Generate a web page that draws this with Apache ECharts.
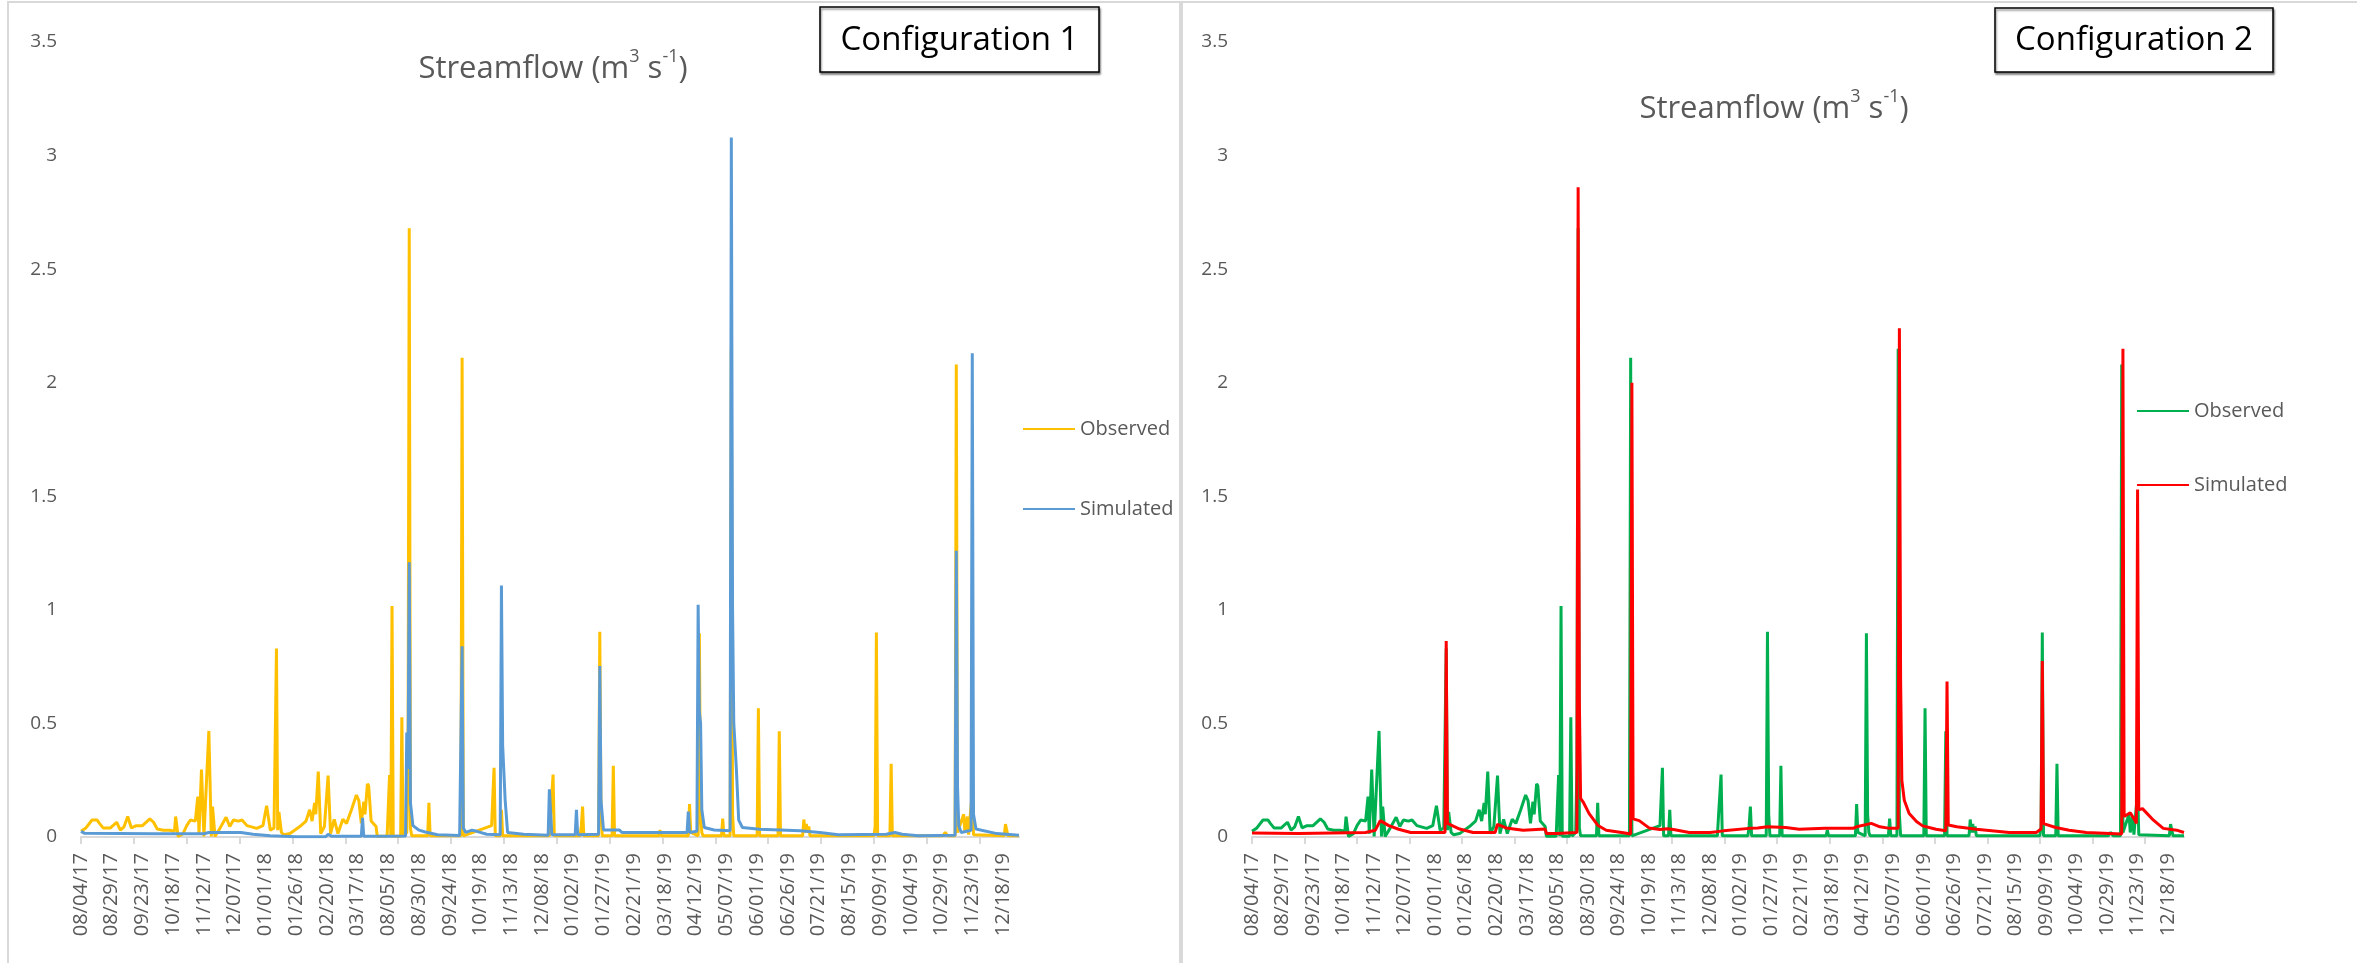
<!DOCTYPE html>
<html>
<head>
<meta charset="utf-8">
<title>Streamflow</title>
<script src="https://cdn.jsdelivr.net/npm/echarts@6/dist/echarts.min.js"></script>
<style>
  html, body { margin: 0; padding: 0; background: #fff; }
  #chart { width: 2357px; height: 963px; }
</style>
</head>
<body>
<div id="chart"></div>
<script>
// daily record; the Apr-Jul 2018 stretch is missing from the series
const periods = [['2017-08-04', '2018-04-10'], ['2018-08-05', '2019-12-31']];

const observed = [
  ['08/04/17', 0.025], ['08/08/17', 0.04], ['08/13/17', 0.075], ['08/17/17', 0.075], ['08/19/17', 0.06], ['08/22/17', 0.04], ['08/28/17', 0.04],
  ['09/02/17', 0.065], ['09/05/17', 0.03], ['09/08/17', 0.045], ['09/11/17', 0.09], ['09/14/17', 0.04], ['09/18/17', 0.05], ['09/23/17', 0.05], ['09/29/17', 0.08],
  ['10/02/17', 0.065], ['10/05/17', 0.035], ['10/10/17', 0.03], ['10/15/17', 0.03], ['10/19/17', 0.025], ['10/20/17', 0.09], ['10/22/17', 0.002], ['10/26/17', 0.015], ['10/29/17', 0.05],
  ['11/01/17', 0.075], ['11/05/17', 0.07], ['11/07/17', 0.178], ['11/08/17', 0.015], ['11/10/17', 0.297], ['11/12/17', 0.002], ['11/16/17', 0.467], ['11/18/17', 0.002], ['11/19/17', 0.134], ['11/21/17', 0.002], ['11/25/17', 0.038], ['11/30/17', 0.087],
  ['12/03/17', 0.046], ['12/06/17', 0.075], ['12/10/17', 0.07], ['12/13/17', 0.075], ['12/17/17', 0.05], ['12/25/17', 0.038], ['12/30/17', 0.05],
  ['01/02/18', 0.138], ['01/05/18', 0.03], ['01/08/18', 0.04], ['01/10/18', 0.83], ['01/11/18', 0.03], ['01/12/18', 0.11], ['01/14/18', 0.02], ['01/16/18', 0.01], ['01/21/18', 0.015], ['01/29/18', 0.046],
  ['02/03/18', 0.07], ['02/06/18', 0.12], ['02/08/18', 0.07], ['02/10/18', 0.15], ['02/11/18', 0.1], ['02/13/18', 0.288], ['02/15/18', 0.015], ['02/18/18', 0.046], ['02/21/18', 0.27], ['02/23/18', 0.015], ['02/26/18', 0.078],
  ['03/01/18', 0.015], ['03/05/18', 0.078], ['03/08/18', 0.06], ['03/12/18', 0.12], ['03/16/18', 0.185], ['03/18/18', 0.16], ['03/20/18', 0.06], ['03/22/18', 0.155], ['03/23/18', 0.1], ['03/25/18', 0.234], ['03/26/18', 0.225], ['03/28/18', 0.07],
  ['04/01/18', 0.046], ['04/02/18', 0.003], ['04/10/18', 0.003],
  ['08/05/18', 0.003], ['08/06/18', 0.273], ['08/07/18', 0.003], ['08/08/18', 1.017], ['08/09/18', 0.003], ['08/15/18', 0.003], ['08/16/18', 0.527], ['08/17/18', 0.003], ['08/20/18', 0.02], ['08/21/18', 0.3], ['08/22/18', 2.68], ['08/23/18', 0.04], ['08/24/18', 0.005],
  ['09/06/18', 0.005], ['09/07/18', 0.15], ['09/08/18', 0.005],
  ['10/03/18', 0.005], ['10/04/18', 2.11], ['10/05/18', 0.005], ['10/28/18', 0.05], ['10/30/18', 0.305], ['10/31/18', 0.005],
  ['11/04/18', 0.005], ['11/05/18', 0.12], ['11/06/18', 0.005],
  ['12/14/18', 0.005], ['12/15/18', 0.1], ['12/17/18', 0.275], ['12/18/18', 0.005],
  ['01/08/19', 0.005], ['01/09/19', 0.05], ['01/10/19', 0.134], ['01/11/19', 0.005], ['01/23/19', 0.005], ['01/24/19', 0.904], ['01/25/19', 0.1], ['01/26/19', 0.005],
  ['02/03/19', 0.005], ['02/04/19', 0.314], ['02/05/19', 0.005],
  ['03/13/19', 0.005], ['03/14/19', 0.03], ['03/15/19', 0.005],
  ['04/06/19', 0.005], ['04/07/19', 0.145], ['04/08/19', 0.02], ['04/14/19', 0.005], ['04/15/19', 0.897], ['04/16/19', 0.1], ['04/17/19', 0.02], ['04/18/19', 0.005],
  ['05/03/19', 0.005], ['05/04/19', 0.081], ['05/05/19', 0.005], ['05/10/19', 0.005], ['05/11/19', 2.15], ['05/12/19', 0.1], ['05/13/19', 0.005],
  ['06/01/19', 0.005], ['06/02/19', 0.567], ['06/03/19', 0.005], ['06/18/19', 0.005], ['06/19/19', 0.465], ['06/20/19', 0.005],
  ['07/08/19', 0.005], ['07/09/19', 0.077], ['07/10/19', 0.02], ['07/11/19', 0.057], ['07/12/19', 0.02], ['07/13/19', 0.046], ['07/14/19', 0.005],
  ['09/04/19', 0.005], ['09/05/19', 0.046], ['09/06/19', 0.9], ['09/07/19', 0.005], ['09/17/19', 0.005], ['09/18/19', 0.322], ['09/19/19', 0.005],
  ['10/30/19', 0.005], ['11/01/19', 0.02], ['11/03/19', 0.005], ['11/09/19', 0.005], ['11/10/19', 2.08], ['11/11/19', 0.02], ['11/16/19', 0.1], ['11/17/19', 0.02], ['11/19/19', 0.09], ['11/20/19', 0.01], ['11/23/19', 0.2], ['11/24/19', 0.01],
  ['12/19/19', 0.005], ['12/20/19', 0.057], ['12/21/19', 0.03], ['12/22/19', 0.005], ['12/31/19', 0.005]
];

const simulatedConfig1 = [
  ['08/04/17', 0.025], ['08/07/17', 0.016], ['10/03/17', 0.014], ['11/12/17', 0.014], ['11/16/17', 0.02], ['12/12/17', 0.02], ['12/22/17', 0.012],
  ['01/05/18', 0.006], ['01/26/18', 0.001], ['02/19/18', 0.001], ['02/21/18', 0.012], ['02/24/18', 0.003], ['03/20/18', 0.003], ['03/21/18', 0.084], ['03/22/18', 0.003], ['04/10/18', 0.003],
  ['08/05/18', 0.003], ['08/19/18', 0.004], ['08/20/18', 0.46], ['08/21/18', 0.3], ['08/22/18', 1.21], ['08/23/18', 0.15], ['08/25/18', 0.05], ['08/30/18', 0.03],
  ['09/04/18', 0.022], ['09/14/18', 0.01], ['10/02/18', 0.007], ['10/03/18', 0.01], ['10/04/18', 0.84], ['10/05/18', 0.04], ['10/07/18', 0.02], ['10/12/18', 0.03], ['10/16/18', 0.025], ['10/24/18', 0.012],
  ['11/04/18', 0.01], ['11/05/18', 1.107], ['11/06/18', 0.4], ['11/08/18', 0.165], ['11/10/18', 0.02], ['11/23/18', 0.012],
  ['12/13/18', 0.008], ['12/14/18', 0.21], ['12/15/18', 0.218], ['12/16/18', 0.01],
  ['01/04/19', 0.01], ['01/05/19', 0.12], ['01/06/19', 0.01], ['01/23/19', 0.012], ['01/24/19', 0.753], ['01/25/19', 0.16], ['01/27/19', 0.031],
  ['02/09/19', 0.031], ['02/11/19', 0.02],
  ['04/05/19', 0.02], ['04/06/19', 0.112], ['04/07/19', 0.02], ['04/13/19', 0.025], ['04/14/19', 1.022], ['04/15/19', 0.55], ['04/16/19', 0.5], ['04/17/19', 0.12], ['04/19/19', 0.042], ['04/27/19', 0.031],
  ['05/10/19', 0.028], ['05/11/19', 3.08], ['05/12/19', 1.0], ['05/13/19', 0.5], ['05/15/19', 0.31], ['05/17/19', 0.074], ['05/20/19', 0.042],
  ['06/03/19', 0.034], ['07/06/19', 0.028], ['07/22/19', 0.02], ['08/06/19', 0.01],
  ['09/14/19', 0.012], ['09/21/19', 0.02], ['09/27/19', 0.012], ['10/10/19', 0.005],
  ['11/09/19', 0.008], ['11/10/19', 1.26], ['11/11/19', 0.22], ['11/12/19', 0.05], ['11/14/19', 0.02], ['11/22/19', 0.03], ['11/23/19', 2.13], ['11/24/19', 0.1], ['11/26/19', 0.035],
  ['12/13/19', 0.015], ['12/31/19', 0.008]
];

const simulatedConfig2 = [
  ['08/04/17', 0.018], ['09/11/17', 0.015], ['09/12/17', 0.02], ['11/05/17', 0.02], ['11/13/17', 0.03], ['11/17/17', 0.072], ['11/24/17', 0.05],
  ['12/02/17', 0.034], ['12/12/17', 0.02], ['01/09/18', 0.02], ['01/10/18', 0.863], ['01/11/18', 0.06], ['01/21/18', 0.035],
  ['02/01/18', 0.02], ['02/19/18', 0.02], ['02/21/18', 0.056], ['02/28/18', 0.04], ['03/14/18', 0.03], ['04/01/18', 0.035], ['04/02/18', 0.015], ['04/10/18', 0.015],
  ['08/05/18', 0.015], ['08/21/18', 0.02], ['08/22/18', 2.86], ['08/23/18', 0.6], ['08/24/18', 0.17], ['08/26/18', 0.155], ['08/31/18', 0.103],
  ['09/07/18', 0.052], ['09/14/18', 0.03], ['09/28/18', 0.019], ['10/04/18', 0.013], ['10/05/18', 2.0], ['10/06/18', 0.08], ['10/11/18', 0.072], ['10/19/18', 0.04], ['10/28/18', 0.033],
  ['11/03/18', 0.036], ['11/08/18', 0.033], ['11/21/18', 0.02], ['12/08/18', 0.02], ['12/19/18', 0.027],
  ['01/09/19', 0.038], ['01/16/19', 0.04], ['01/24/19', 0.045], ['02/08/19', 0.042], ['02/19/19', 0.034], ['03/12/19', 0.038],
  ['04/04/19', 0.038], ['04/07/19', 0.045], ['04/19/19', 0.06], ['04/26/19', 0.045], ['05/04/19', 0.038], ['05/11/19', 0.038], ['05/12/19', 2.24], ['05/13/19', 0.69], ['05/14/19', 0.25], ['05/16/19', 0.162], ['05/20/19', 0.103], ['05/26/19', 0.068], ['05/31/19', 0.049],
  ['06/11/19', 0.034], ['06/19/19', 0.028], ['06/20/19', 0.684], ['06/21/19', 0.053], ['06/28/19', 0.045], ['07/14/19', 0.034], ['08/10/19', 0.02],
  ['09/01/19', 0.02], ['09/05/19', 0.035], ['09/06/19', 0.775], ['09/07/19', 0.059], ['09/17/19', 0.042], ['09/28/19', 0.03], ['10/12/19', 0.02],
  ['11/10/19', 0.013], ['11/11/19', 2.15], ['11/12/19', 0.09], ['11/17/19', 0.107], ['11/21/19', 0.072], ['11/22/19', 0.06], ['11/23/19', 1.53], ['11/24/19', 0.12], ['11/27/19', 0.125],
  ['12/06/19', 0.074], ['12/14/19', 0.038], ['12/25/19', 0.03], ['12/31/19', 0.02]
];

const pad = n => String(n).padStart(2, '0');
const dates = [];
periods.forEach(([from, to]) => {
  for (let t = Date.parse(from); t <= Date.parse(to); t += 86400000) {
    const d = new Date(t);
    dates.push(pad(d.getUTCMonth() + 1) + '/' + pad(d.getUTCDate()) + '/' + pad(d.getUTCFullYear() % 100));
  }
});

const textColor = '#595959';
const font = 'Open Sans';
const borderGray = '#d9d9d9';

const makeXAxis = (gridIndex) => ({
  type: 'category',
  gridIndex,
  data: dates,
  boundaryGap: false,
  axisLine: { lineStyle: { color: borderGray, width: 2 } },
  axisTick: { interval: (i) => i % 43 === 0, length: 7, lineStyle: { color: borderGray, width: 2 } },
  axisLabel: { interval: 24, rotate: 90, margin: 16, fontSize: 20, color: textColor, fontFamily: font }
});

const makeYAxis = (gridIndex) => ({
  type: 'value',
  gridIndex,
  min: 0,
  max: 3.5,
  interval: 0.5,
  splitLine: { show: false },
  axisLine: { show: false },
  axisTick: { show: false },
  axisLabel: { fontSize: 19, margin: 24, color: textColor, fontFamily: font }
});

const makeLine = (name, data, idx, color) => ({
  name,
  type: 'line',
  xAxisIndex: idx,
  yAxisIndex: idx,
  data,
  symbol: 'none',
  lineStyle: { width: 3, color },
  itemStyle: { color }
});

const titleRich = {
  a: { fontSize: 31, lineHeight: 42, fontWeight: 'normal', color: textColor, fontFamily: font },
  s: { fontSize: 18, lineHeight: 28, verticalAlign: 'top', fontWeight: 'normal', color: textColor, fontFamily: font }
};
const titleText = '{a|Streamflow (m}{s|3}{a| s}{s|-1}{a|)}';

const legendBase = {
  orient: 'vertical',
  itemWidth: 52,
  itemHeight: 20,
  selectedMode: false,
  itemStyle: { opacity: 0 },
  lineStyle: { width: 2 },
  formatter: (name) => name.slice(0, -2),
  textStyle: { fontSize: 20, lineHeight: 20, color: textColor, fontFamily: font }
};

const configBox = (x, y, w, h, label) => ({
  type: 'group',
  children: [
    {
      type: 'rect',
      shape: { x, y, width: w, height: h },
      style: { fill: '#fff', stroke: '#000', lineWidth: 1.5, shadowColor: 'rgba(0,0,0,0.45)', shadowOffsetX: 1, shadowOffsetY: 2, shadowBlur: 2 }
    },
    {
      type: 'text',
      style: { x: x + w / 2, y: y + h / 2 + 1, text: label, font: '33px "Open Sans"', fill: '#000', textAlign: 'center', textVerticalAlign: 'middle' }
    }
  ]
});

const chart = echarts.init(document.getElementById('chart'));
chart.setOption({
  animation: false,
  backgroundColor: '#fff',
  title: [
    { text: titleText, left: 548, top: 43, textAlign: 'center', textStyle: { rich: titleRich } },
    { text: titleText, left: 1769, top: 83, textAlign: 'center', textStyle: { rich: titleRich } }
  ],
  legend: [
    Object.assign({}, legendBase, { data: ['Observed 1', 'Simulated 1'], left: 1017, top: 414, itemGap: 60 }),
    Object.assign({}, legendBase, { data: ['Observed 2', 'Simulated 2'], left: 2131, top: 396, itemGap: 54 })
  ],
  grid: [
    { left: 81, top: 42, width: 938, height: 795 },
    { left: 1252, top: 42, width: 932, height: 795 }
  ],
  xAxis: [makeXAxis(0), makeXAxis(1)],
  yAxis: [makeYAxis(0), makeYAxis(1)],
  series: [
    makeLine('Observed 1', observed, 0, '#FFC000'),
    makeLine('Simulated 1', simulatedConfig1, 0, '#5B9BD5'),
    makeLine('Observed 2', observed, 1, '#00B050'),
    makeLine('Simulated 2', simulatedConfig2, 1, '#FF0000')
  ],
  graphic: [
    { type: 'rect', silent: true, shape: { x: 8, y: 2, width: 1172, height: 990 }, style: { fill: 'none', stroke: borderGray, lineWidth: 2 } },
    { type: 'rect', silent: true, shape: { x: 1182, y: 2, width: 1200, height: 990 }, style: { fill: 'none', stroke: borderGray, lineWidth: 2 } },
    configBox(820, 7, 279, 65, 'Configuration 1'),
    configBox(1995, 8, 278, 64, 'Configuration 2')
  ]
});
</script>
</body>
</html>
